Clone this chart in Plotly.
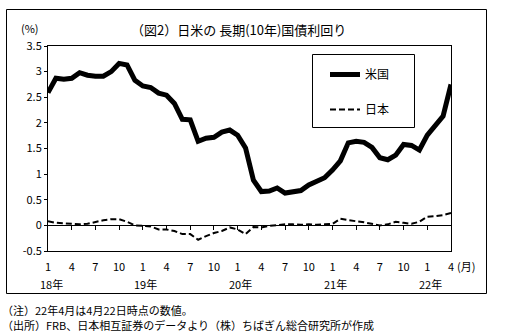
import plotly.graph_objects as go

# ---- data (monthly, Jan 2018 - Apr 2022) ----
month_idx = list(range(52))
us_yield = [2.59, 2.87, 2.85, 2.87, 2.98, 2.93, 2.91, 2.91, 3.00, 3.16, 3.13, 2.83,
            2.72, 2.69, 2.58, 2.54, 2.38, 2.07, 2.06, 1.64, 1.70, 1.72, 1.82, 1.86,
            1.76, 1.51, 0.88, 0.66, 0.67, 0.73, 0.63, 0.65, 0.68, 0.79, 0.87, 0.93,
            1.08, 1.26, 1.61, 1.64, 1.62, 1.52, 1.32, 1.28, 1.37, 1.58, 1.56, 1.47,
            1.76, 1.93, 2.13, 2.75]
jp_yield = [0.08, 0.05, 0.04, 0.03, 0.02, 0.03, 0.07, 0.10, 0.12, 0.12, 0.07, 0.00,
            -0.01, -0.02, -0.08, -0.08, -0.11, -0.17, -0.17, -0.28, -0.21, -0.15, -0.11, -0.04,
            -0.08, -0.17, -0.03, -0.04, -0.01, 0.01, 0.02, 0.02, 0.01, 0.02, 0.01, 0.02,
            0.03, 0.13, 0.10, 0.08, 0.06, 0.03, 0.00, 0.02, 0.07, 0.05, 0.03, 0.07,
            0.17, 0.18, 0.20, 0.24]
month_tick_idx = list(range(0, 52, 3))
month_tick_text = ["1", "4", "7", "10"] * 4 + ["1", "4"]
year_idx = [0, 12, 24, 36, 48]
year_text = ["18年", "19年", "20年", "21年", "22年"]
y_tick_vals = [-0.5, 0, 0.5, 1, 1.5, 2, 2.5, 3, 3.5]
y_tick_text = ["-0.5", "0", "0.5", "1", "1.5", "2", "2.5", "3", "3.5"]
series_names = ["米国", "日本"]

W, H = 506, 332
ML, MR, MT, MB = 48, 55, 46, 81
PW, PH = W - ML - MR, H - MT - MB


def px_x(px):
    return (px - ML) / PW


def px_y(py):
    return (H - MB - py) / PH


FONT = "Noto Sans CJK JP"

fig = go.Figure()
fig.add_trace(go.Scatter(x=month_idx, y=us_yield, mode="lines", name=series_names[0],
                         line=dict(color="black", width=5), legendgroup="a"))
fig.add_trace(go.Scatter(x=month_idx, y=jp_yield, mode="lines", name=series_names[1],
                         line=dict(color="black", width=2, dash="6px,3px"),
                         xaxis="x2", legendgroup="b"))

fig.update_layout(
    width=W, height=H,
    margin=dict(l=ML, r=MR, t=MT, b=MB),
    paper_bgcolor="white", plot_bgcolor="white",
    font=dict(family=FONT, color="black", size=11),
    showlegend=True,
    legend=dict(x=px_x(325), y=px_y(60), xanchor="left", yanchor="top",
                bgcolor="rgba(0,0,0,0)", borderwidth=0,
                font=dict(size=12, family=FONT), traceorder="grouped",
                tracegroupgap=16),
    xaxis=dict(range=[0, 51], showgrid=False, zeroline=False,
               showline=True, linecolor="black", linewidth=1, mirror=True,
               ticks="", tickvals=month_tick_idx, ticktext=month_tick_text,
               ticklabelstandoff=6, tickfont=dict(size=11)),
    xaxis2=dict(range=[0, 51], overlaying="x", anchor="free", position=0.125,
                showgrid=False, zeroline=False, showline=True, linecolor="black",
                linewidth=1, ticks="outside", ticklen=4, tickcolor="black",
                tickvals=month_tick_idx[1:], showticklabels=False),
    yaxis=dict(range=[-0.5, 3.5], showgrid=False, zeroline=False,
               showline=True, linecolor="black", linewidth=1, mirror=True,
               ticks="outside", ticklen=3, tickcolor="black",
               tickvals=y_tick_vals, ticktext=y_tick_text, tickfont=dict(size=11)),
)


def note(px, py, text, size=11, xanchor="center", xref="paper", xval=None, xshift=0):
    fig.add_annotation(x=px_x(px) if xval is None else xval, y=px_y(py),
                       xref=xref, yref="paper", text=text, showarrow=False,
                       xanchor=xanchor, yanchor="middle", xshift=xshift,
                       font=dict(size=size))


# year labels
for xi, t in zip(year_idx, year_text):
    note(0, 284, t, xref="x", xval=xi, xshift=3)
note(455, 266, "(月)", xanchor="left")

# title and unit
note(238, 30, "（図2）日米の 長期(10年)国債利回り", size=13)
note(30, 28, "(%)")

# footnotes
note(0, 309.5, "（注）22年4月は4月22日時点の数値。", xanchor="left")
note(0, 325, "（出所）FRB、日本相互証券のデータより（株）ちばぎん総合研究所が作成", xanchor="left")

# outer frame and legend box
fig.add_shape(type="rect", xref="paper", yref="paper",
              x0=px_x(6.5), x1=px_x(486.5), y0=px_y(293.5), y1=px_y(9.5),
              line=dict(color="black", width=1), layer="below")
fig.add_shape(type="rect", xref="paper", yref="paper",
              x0=px_x(312.5), x1=px_x(414.5), y0=px_y(127.5), y1=px_y(54.5),
              line=dict(color="black", width=1), fillcolor="white", layer="below")

fig.write_html("out.html")
